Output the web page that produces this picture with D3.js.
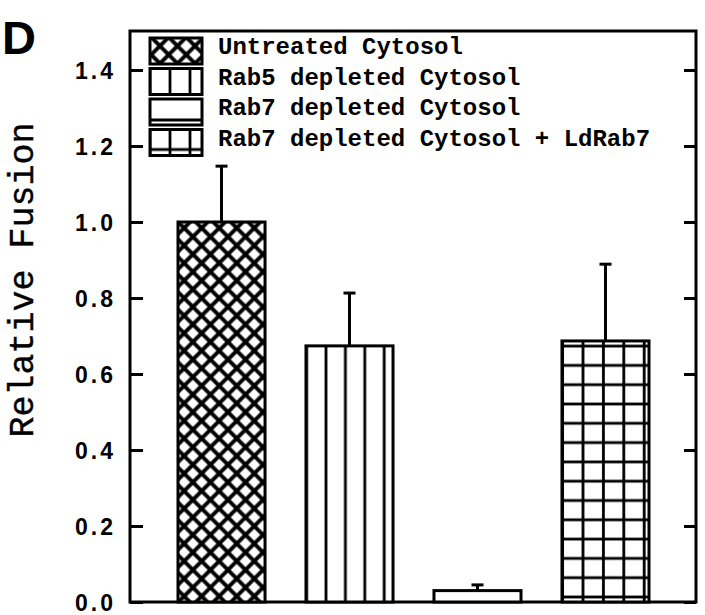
<!DOCTYPE html>
<html>
<head>
<meta charset="utf-8">
<script src="https://cdn.jsdelivr.net/npm/d3@7"></script>
<style>
  body { margin: 0; background: #fff; }
</style>
</head>
<body>
<script>

var categories = ['Untreated Cytosol', 'Rab5 depleted Cytosol', 'Rab7 depleted Cytosol', 'Rab7 depleted Cytosol + LdRab7'];
var values = [1.0, 0.674, 0.03, 0.687];
var errors = [0.147, 0.139, 0.015, 0.202];
var yTicks = [0, 0.2, 0.4, 0.6, 0.8, 1.0, 1.2, 1.4];
var yTickLabels = ['0.0', '0.2', '0.4', '0.6', '0.8', '1.0', '1.2', '1.4'];
var fills = ['cross', 'vert', 'horiz', 'grid'];

var width = 705;
var height = 615;
// plot frame (note: "top" is taken by window.top, so use other names)
var plotLeft = 130, plotRight = 696, plotTop = 31, plotBottom = 602;

var svg = d3.select('body').append('svg')
  .attr('width', width)
  .attr('height', height);

var x = d3.scaleBand().domain(categories).range([plotLeft, plotRight + 1]).paddingInner(0.32).paddingOuter(0.375);
var y = d3.scaleLinear().domain([0, 1.5]).range([plotBottom, plotTop + 1]);

var defs = svg.append('defs');

// hatch patterns in page coordinates, offsets picked to match the original
function hatch(id, type, ox, oy, sx, sy) {
  var p = defs.append('pattern')
    .attr('id', id)
    .attr('patternUnits', 'userSpaceOnUse')
    .attr('x', ox).attr('y', oy)
    .attr('width', sx).attr('height', sy);
  if (type == 'cross') {
    p.attr('patternTransform', 'rotate(45)');
  }
  p.append('rect').attr('width', sx).attr('height', sy).attr('fill', '#fff');
  var g = p.append('g').attr('stroke', '#000').attr('stroke-width', type == 'cross' ? 3.9 : 2.8);
  if (type == 'vert' || type == 'grid' || type == 'cross') {
    g.append('line').attr('x1', sx / 2).attr('x2', sx / 2).attr('y1', 0).attr('y2', sy);
  }
  if (type == 'horiz' || type == 'grid' || type == 'cross') {
    g.append('line').attr('y1', sy / 2).attr('y2', sy / 2).attr('x1', 0).attr('x2', sx);
  }
}

hatch('bar-cross', 'cross', 0, 0, 12.4, 12.4);
hatch('bar-vert', 'vert', 326 - 9.7, 0, 19.4, 19.4);
hatch('bar-horiz', 'horiz', 0, 585 - 9.7, 19.4, 19.4);
hatch('bar-grid', 'grid', 583 - 10.2, 597 - 9.65, 20.4, 19.3);

hatch('leg-cross', 'cross', 3, 0, 12.4, 12.4);
hatch('leg-vert', 'vert', 170 - 10, 0, 20, 200);
hatch('leg-horiz', 'horiz', 0, 119 - 15, 200, 30);
hatch('leg-grid', 'grid', 170 - 10, 148 - 15, 20, 30);

// frame
svg.append('rect')
  .attr('x', plotLeft).attr('y', plotTop)
  .attr('width', plotRight - plotLeft).attr('height', plotBottom - plotTop)
  .attr('fill', 'none')
  .attr('stroke', '#000')
  .attr('stroke-width', 3);

// left axis
var yAxis = d3.axisLeft(y)
  .tickValues(yTicks)
  .tickSize(-13)
  .tickSizeOuter(0)
  .tickPadding(14)
  .tickFormat(function(d, i) { return yTickLabels[i]; });

var gy = svg.append('g').attr('transform', 'translate(' + plotLeft + ',0)').call(yAxis);
gy.select('.domain').remove();
gy.selectAll('line').attr('stroke', '#000').attr('stroke-width', 3);
gy.selectAll('text')
  .attr('font-family', 'Liberation Sans, Arial, sans-serif')
  .attr('font-weight', 'bold')
  .attr('font-size', 23)
  .attr('letter-spacing', 3)
  .attr('fill', '#000')
  .attr('dy', '0.36em');

// right axis
var yAxisR = d3.axisRight(y).tickValues(yTicks).tickSize(-12).tickSizeOuter(0).tickFormat('');
var gr = svg.append('g').attr('transform', 'translate(' + plotRight + ',0)').call(yAxisR);
gr.select('.domain').remove();
gr.selectAll('line').attr('stroke', '#000').attr('stroke-width', 3);

// bars
svg.selectAll('rect.bar').data(values).enter().append('rect')
  .attr('class', 'bar')
  .attr('x', function(d, i) { return x(categories[i]); })
  .attr('y', function(d) { return y(d); })
  .attr('width', x.bandwidth())
  .attr('height', function(d) { return y(0) - y(d); })
  .attr('fill', function(d, i) { return 'url(#bar-' + fills[i] + ')'; })
  .attr('stroke', '#000')
  .attr('stroke-width', 3);

// error bars
var eb = svg.selectAll('g.err').data(values).enter().append('g').attr('class', 'err')
  .attr('stroke', '#000')
  .attr('stroke-width', 3);

eb.append('line')
  .attr('x1', function(d, i) { return x(categories[i]) + x.bandwidth() / 2; })
  .attr('x2', function(d, i) { return x(categories[i]) + x.bandwidth() / 2; })
  .attr('y1', function(d) { return y(d); })
  .attr('y2', function(d, i) { return y(d + errors[i]); });

eb.append('line')
  .attr('x1', function(d, i) { return x(categories[i]) + x.bandwidth() / 2 - 6; })
  .attr('x2', function(d, i) { return x(categories[i]) + x.bandwidth() / 2 + 6; })
  .attr('y1', function(d, i) { return y(d + errors[i]); })
  .attr('y2', function(d, i) { return y(d + errors[i]); });

// legend
var legend = svg.selectAll('g.legend').data(categories).enter().append('g')
  .attr('class', 'legend')
  .attr('transform', function(d, i) { return 'translate(0,' + (i * 30.5) + ')'; });

legend.append('rect')
  .attr('x', 150).attr('y', 38)
  .attr('width', 52).attr('height', 26)
  .attr('fill', function(d, i) { return 'url(#leg-' + fills[i] + ')'; })
  .attr('stroke', '#000')
  .attr('stroke-width', 3);

legend.append('text')
  .attr('x', 218).attr('y', 54)
  .attr('font-family', 'Liberation Mono, Courier New, monospace')
  .attr('font-weight', 'bold')
  .attr('font-size', 24)
  .attr('fill', '#000')
  .text(function(d) { return d; });

// y title
svg.append('text')
  .attr('transform', 'translate(33,280) rotate(-90)')
  .attr('text-anchor', 'middle')
  .attr('font-family', 'Liberation Mono, Courier New, monospace')
  .attr('font-size', 35)
  .attr('fill', '#000')
  .attr('stroke', '#000')
  .attr('stroke-width', 0.4)
  .text('Relative Fusion');

// panel letter
svg.append('text')
  .attr('x', 2).attr('y', 54)
  .attr('font-family', 'Liberation Sans, Arial, sans-serif')
  .attr('font-weight', 'bold')
  .attr('font-size', 47)
  .attr('fill', '#000')
  .text('D');

</script>
</body>
</html>
